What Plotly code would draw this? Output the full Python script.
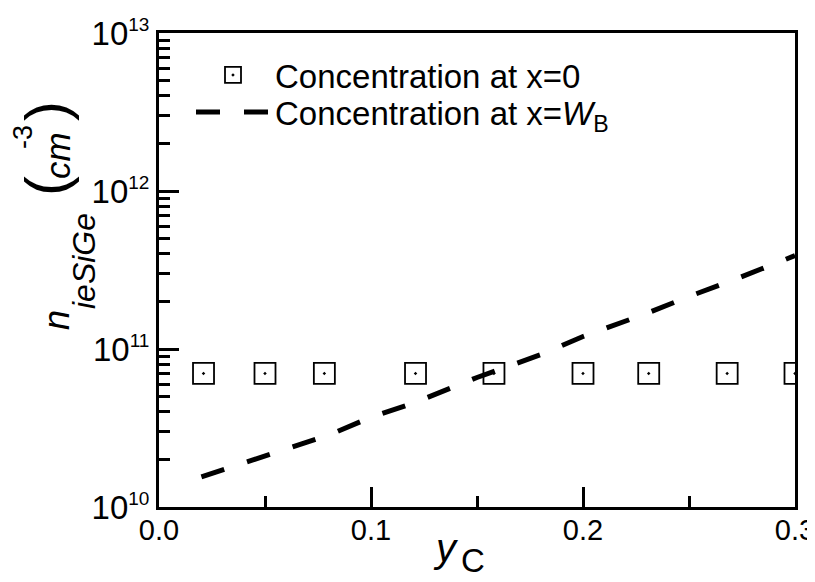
import plotly.graph_objects as go

# ---- data ----
yc_x0 = [0.021, 0.050, 0.078, 0.121, 0.158, 0.200, 0.231, 0.268, 0.300]
n_x0 = [7.0e10, 7.0e10, 7.0e10, 7.0e10, 7.0e10, 7.0e10, 7.0e10, 7.0e10, 7.0e10]

yc_wb = [0.020, 0.050, 0.080, 0.100, 0.120, 0.150, 0.180, 0.200, 0.230, 0.250, 0.270, 0.300]
n_wb = [1.55e10, 2.10e10, 2.85e10, 3.70e10, 4.55e10, 6.60e10, 9.20e10, 1.20e11, 1.68e11, 2.15e11, 2.70e11, 3.90e11]

x_tickvals = [0.0, 0.1, 0.2, 0.3]
x_ticktext = ["0.0", "0.1", "0.2", "0.3"]
x_minor = [0.05, 0.15, 0.25]
y_tickvals = [1e10, 1e11, 1e12, 1e13]
y_exponents = ["10", "11", "12", "13"]
y_minor = [k * 10 ** e for e in (10, 11, 12) for k in range(2, 10)]

legend_names = ["Concentration at x=0", "Concentration at x=<i>W</i><sub>B</sub>"]

FONT = "Liberation Sans, Arial, sans-serif"

# The page body has an 8px default margin: the figure is drawn at (8, 8)
OFF = 8
W, H = 815 - OFF, 582 - OFF
# plot-area geometry in screen pixels
L, R, T, B = 159, 795, 33, 507


def px(xp):
    return (xp - L) / (R - L)


def py(yp):
    return (B - yp) / (B - T)


fig = go.Figure()
fig.add_trace(go.Scatter(
    x=yc_x0, y=n_x0, mode="markers", name=legend_names[0], legend="legend",
    marker=dict(symbol="square-open-dot", size=21, color="black",
                line=dict(width=1.8, color="black")),
))
fig.add_trace(go.Scatter(
    x=yc_wb, y=n_wb, mode="lines", name=legend_names[1], legend="legend2",
    line=dict(color="black", width=5, dash="24px,24px"),
))

y_ticktext = ["10<sup><span style='font-size:19px'>%s</span></sup>" % e for e in y_exponents]

fig.update_xaxes(
    range=[0, 0.3], tickvals=x_tickvals, ticktext=x_ticktext,
    ticks="inside", ticklen=20, tickwidth=3, tickcolor="black",
    showline=True, linewidth=3, linecolor="black", mirror=True,
    showgrid=False, zeroline=False, automargin=False,
    ticklabeloverflow="allow", ticklabelstandoff=-5,
    tickfont=dict(family=FONT, size=29, color="black"),
    minor=dict(tickvals=x_minor, ticks="inside", ticklen=11, tickwidth=3, tickcolor="black"),
)
fig.update_yaxes(
    type="log", range=[10, 13], tickvals=y_tickvals, ticktext=y_ticktext,
    ticks="inside", ticklen=20, tickwidth=3, tickcolor="black",
    showline=True, linewidth=3, linecolor="black", mirror=True,
    showgrid=False, zeroline=False, automargin=False,
    ticklabeloverflow="allow",
    tickfont=dict(family=FONT, size=33, color="black"),
    minor=dict(tickvals=y_minor, ticks="inside", ticklen=11, tickwidth=3, tickcolor="black"),
)

ann = []


def add_text(text, xp, yp, size, angle=0):
    ann.append(dict(text=text, xref="paper", yref="paper", x=px(xp), y=py(yp),
                    xanchor="center", yanchor="middle", showarrow=False,
                    textangle=angle, font=dict(family=FONT, size=size, color="black")))


# y-axis title pieces (screen pixel targets)
add_text("<i>n</i>", 56, 320, 36, -90)
add_text("<i>ieSiGe</i>", 84, 261, 32, -90)
add_text("(", 46, 186, 60, -90)
add_text("<i>cm</i>", 57, 156, 35, -90)
add_text("-3", 23, 137, 27, -90)
add_text(")", 46, 111, 60, -90)
# x-axis title pieces
add_text("<i>y</i>", 446, 548, 40)
add_text("C", 473, 560, 33)

LEGFONT = dict(family=FONT, size=33, color="black")
fig.update_layout(
    width=W, height=H,
    margin=dict(l=L - OFF, r=W - (R - OFF), t=T - OFF, b=H - (B - OFF), pad=0),
    paper_bgcolor="white", plot_bgcolor="white",
    font=dict(family=FONT, color="black"),
    showlegend=True,
    legend=dict(x=px(191), y=py(75), xanchor="left", yanchor="middle",
                bgcolor="rgba(0,0,0,0)", borderwidth=0, itemwidth=74,
                font=LEGFONT),
    legend2=dict(x=px(191), y=py(112), xanchor="left", yanchor="middle",
                 bgcolor="rgba(0,0,0,0)", borderwidth=0, itemwidth=74,
                 font=LEGFONT),
    annotations=ann,
)

fig.write_html("out.html")
